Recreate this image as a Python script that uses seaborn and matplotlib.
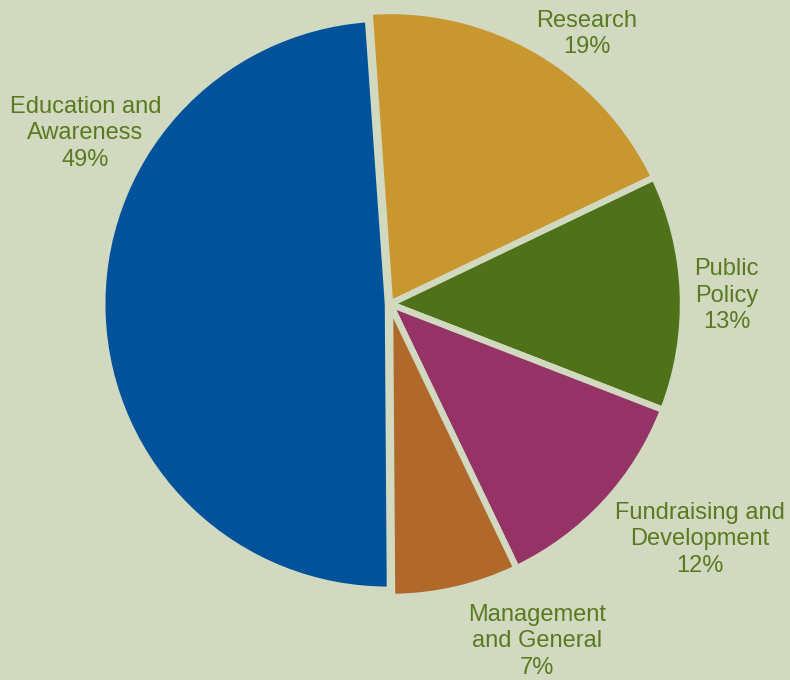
import matplotlib
matplotlib.use("Agg")
import matplotlib.pyplot as plt
import seaborn as sns

sns.set_theme(style="white")
plt.rcParams['font.family'] = ['Liberation Sans', 'DejaVu Sans']

categories = ["Research", "Public\nPolicy", "Fundraising and\nDevelopment",
              "Management\nand General", "Education and\nAwareness"]
values = [19, 13, 12, 7, 49]
colors = ["#C9972F", "#4E7119", "#963366", "#B0692B", "#00539B"]
explode = [0, 0, 0, 0, 0.007]
label_pos = [(0.743, 0.950), (0.920, 0.565), (0.886, 0.207), (0.680, 0.057), (0.108, 0.804)]

bg = "#D1D9C0"
txt = "#5A7A1F"

fig = plt.figure(figsize=(7.9, 6.8), dpi=100, facecolor=bg)
ax = fig.add_axes([0, 0, 1, 1])
ax.set_facecolor(bg)

R = 293.0
cx, cy = 390.0, 304.0

wedges, _ = ax.pie(values, colors=colors, startangle=94, counterclock=False, radius=1.0,
                   explode=explode,
                   wedgeprops=dict(edgecolor=bg, linewidth=4.6, antialiased=True))
wedges[4].set_radius(0.975)
ax.set_xlim(-cx / R, (790 - cx) / R)
ax.set_ylim(-(680 - cy) / R, cy / R)
ax.set_aspect("equal")
ax.axis("off")

for cat, v, (x, y) in zip(categories, values, label_pos):
    ax.text(x, y, f"{cat}\n{v}%", transform=ax.transAxes, ha="center", va="center",
            fontsize=17, color=txt, linespacing=1.27)

fig.savefig("out.png", dpi=100, facecolor=bg)
